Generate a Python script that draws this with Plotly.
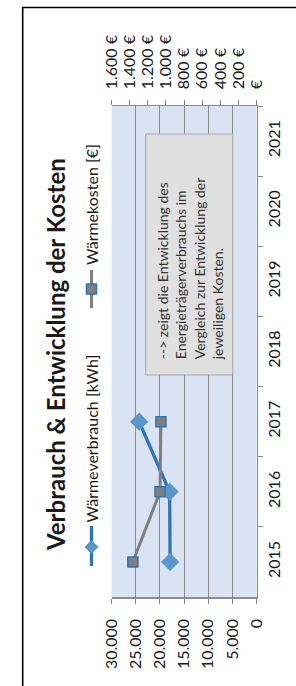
import plotly.graph_objects as go

W, H = 296, 686

years = ["2015", "2016", "2017", "2018", "2019", "2020", "2021"]
data_years = ["2015", "2016", "2017"]
verbrauch_kwh = [17900, 18000, 24300]
kosten_eur = [1366, 1066, 1056]

kwh_ticks = [0, 5000, 10000, 15000, 20000, 25000, 30000]
kwh_labels = ["0", "5.000", "10.000", "15.000", "20.000", "25.000", "30.000"]
eur_ticks = [0, 200, 400, 600, 800, 1000, 1200, 1400, 1600]
eur_labels = ["€", "200 €", "400 €", "600 €", "800 €", "1.000 €", "1.200 €", "1.400 €", "1.600 €"]

title = "Verbrauch & Entwicklung der Kosten"
name_v = "Wärmeverbrauch [kWh]"
name_k = "Wärmekosten [€]"
note = "--> zeigt die Entwicklung des<br>Energieträgerverbrauchs im<br>Vergleich zur Entwicklung der<br>jeweiligen Kosten."

FONT = "Lato"
TXT = "#1a1a1a"
GRID = "#8c8c8c"
BLUE = "#2e75b6"
DIAM = "#5a96c8"
GREY = "#7f7f7f"

def px(x):
    return x / W

def py(y):
    return 1 - y / H

fig = go.Figure()
fig.add_trace(go.Scatter(
    x=verbrauch_kwh, y=data_years, xaxis="x", yaxis="y", mode="lines+markers",
    name=name_v, line=dict(color=BLUE, width=3.3),
    marker=dict(symbol="diamond", size=14, color=DIAM)))
fig.add_trace(go.Scatter(
    x=kosten_eur, y=data_years, xaxis="x2", yaxis="y", mode="lines+markers",
    name=name_k, line=dict(color=GREY, width=3),
    marker=dict(symbol="square", size=10, color=GREY, line=dict(color=BLUE, width=1.5))))

tickfont = dict(family=FONT, size=16, color=TXT)

fig.update_layout(
    width=W, height=H, margin=dict(l=0, r=0, t=0, b=0),
    paper_bgcolor="white", plot_bgcolor="#dae3f3", showlegend=False,
    hovermode=False,
    xaxis=dict(domain=[px(107.5), px(262.5)], anchor="y", side="bottom",
               range=[30000, 0], tickmode="array", tickvals=kwh_ticks, ticktext=kwh_labels,
               tickangle=-90, ticks="outside", ticklen=5, tickcolor=GRID,
               ticklabelstandoff=9,
               showline=True, linecolor=GRID, linewidth=1.5,
               showgrid=True, gridcolor=GRID, gridwidth=1, zeroline=False,
               tickfont=tickfont),
    xaxis2=dict(overlaying="x", anchor="y", side="top",
                range=[1600, 0], tickmode="array", tickvals=eur_ticks, ticktext=eur_labels,
                tickangle=-90, ticks="outside", ticklen=5, tickcolor=GRID,
                ticklabelstandoff=7,
                showline=True, linecolor=GRID, linewidth=1.5,
                showgrid=False, zeroline=False, tickfont=tickfont),
    yaxis=dict(domain=[py(597), py(106)], anchor="x", side="right", type="category",
               categoryorder="array", categoryarray=years, tickvals=years,
               range=[-0.5, len(years) - 0.5], tickson="boundaries",
               tickangle=-90, ticks="outside", ticklen=5, tickcolor=GRID,
               ticklabelstandoff=3,
               showline=True, linecolor=GRID, linewidth=1.5,
               showgrid=False, zeroline=False, tickfont=tickfont),
)

shapes = []
# outer chart border (partly outside the picture)
shapes.append(dict(type="rect", xref="paper", yref="paper",
                   x0=px(12.5), x1=1.2, y0=-0.2, y1=py(7.5),
                   line=dict(color="black", width=1.6), fillcolor="rgba(0,0,0,0)"))
# note box
shapes.append(dict(type="rect", xref="paper", yref="paper",
                   x0=px(144), x1=px(237), y0=py(375), y1=py(134),
                   line=dict(color="#a6a6a6", width=1), fillcolor="#e0e0e0"))
# legend icons
shapes.append(dict(type="line", xref="paper", yref="paper",
                   x0=px(86), x1=px(86), y0=py(566), y1=py(526),
                   line=dict(color=BLUE, width=3.3)))
shapes.append(dict(type="path", xref="paper", yref="paper",
                   xsizemode="pixel", ysizemode="pixel", xanchor=px(86), yanchor=py(547),
                   path="M -7 0 L 0 7 L 7 0 L 0 -7 Z",
                   line=dict(width=0), fillcolor=DIAM))
shapes.append(dict(type="line", xref="paper", yref="paper",
                   x0=px(86), x1=px(86), y0=py(308), y1=py(270),
                   line=dict(color=GREY, width=3)))
shapes.append(dict(type="rect", xref="paper", yref="paper",
                   xsizemode="pixel", ysizemode="pixel", xanchor=px(86), yanchor=py(289),
                   x0=-5, x1=5, y0=-5, y1=5,
                   line=dict(color=BLUE, width=1.5), fillcolor=GREY))
fig.update_layout(shapes=shapes)

annotations = [
    dict(text="<b>" + title + "</b>", xref="paper", yref="paper",
         x=px(47), y=py(354), xanchor="center", yanchor="middle", textangle=-90,
         showarrow=False, font=dict(family=FONT, size=24, color=TXT)),
    dict(text=name_v, xref="paper", yref="paper",
         x=px(86), y=py(524), xanchor="center", yanchor="bottom", textangle=-90,
         showarrow=False, font=dict(family=FONT, size=16, color=TXT)),
    dict(text=name_k, xref="paper", yref="paper",
         x=px(86), y=py(267), xanchor="center", yanchor="bottom", textangle=-90,
         showarrow=False, font=dict(family=FONT, size=16, color=TXT)),
    dict(text=note, xref="paper", yref="paper", align="left",
         x=px(191), y=py(362), xanchor="center", yanchor="bottom", textangle=-90,
         showarrow=False, font=dict(family=FONT, size=14, color="#333333")),
]
fig.update_layout(annotations=annotations)

fig.write_html("out.html", config={"displayModeBar": False, "staticPlot": True},
               post_script="document.body.style.margin='0';document.body.style.overflow='hidden';")
